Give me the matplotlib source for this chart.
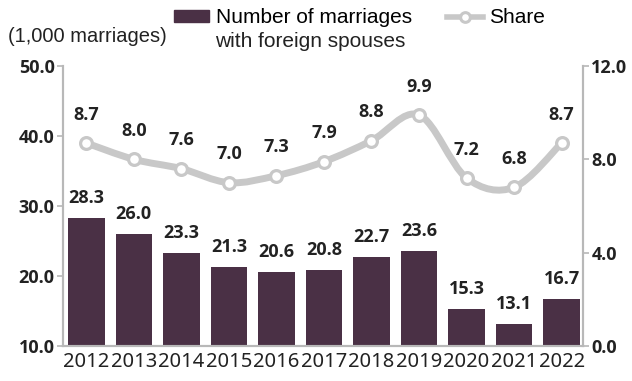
import matplotlib.pyplot as plt
from matplotlib.path import Path
from matplotlib.patches import PathPatch
from matplotlib.lines import Line2D
from matplotlib.patches import Patch

years = ["2012", "2013", "2014", "2015", "2016", "2017", "2018", "2019", "2020", "2021", "2022"]
marriages = [28.3, 26.0, 23.3, 21.3, 20.6, 20.8, 22.7, 23.6, 15.3, 13.1, 16.7]
share = [8.7, 8.0, 7.6, 7.0, 7.3, 7.9, 8.8, 9.9, 7.2, 6.8, 8.7]

bar_color = "#4a3045"
line_color = "#c8c8c8"
axis_color = "#b8b8b8"
num_font = ["Open Sans", "DejaVu Sans"]

fig = plt.figure(figsize=(6.32, 3.81), dpi=100)
ax = fig.add_axes([0.0997, 0.0919, 0.8228, 0.7349])
x = list(range(len(years)))

ax.bar(x, [m - 10 for m in marriages], bottom=10, width=0.77, color=bar_color, zorder=2)
for a, b in zip(x, marriages):
    ax.annotate('%.1f' % b, (a, b), xytext=(0, 8), textcoords='offset points',
                ha='center', va='bottom', fontsize=13, fontweight='bold',
                family=num_font, color='#222222')
ax.set_ylim(10, 50)
ax.set_xlim(-0.49, 10.45)
ax.set_yticks(range(10, 51, 10))
ax.set_yticklabels(['%.1f' % v for v in range(10, 51, 10)])
ax.set_xticks(x)
ax.set_xticklabels(years)

ax2 = ax.twinx()
ax2.set_ylim(0, 12)
ax2.set_yticks([0, 4, 8, 12])
ax2.set_yticklabels(['%.1f' % v for v in [0, 4, 8, 12]])

# smooth line through the share points (Catmull-Rom as bezier)
pts = list(zip(x, share))
verts = [pts[0]]
codes = [Path.MOVETO]
for i in range(len(pts) - 1):
    p0 = pts[i - 1] if i > 0 else pts[i]
    p1 = pts[i]
    p2 = pts[i + 1]
    p3 = pts[i + 2] if i + 2 < len(pts) else pts[i + 1]
    c1 = (p1[0] + (p2[0] - p0[0]) / 6, p1[1] + (p2[1] - p0[1]) / 6)
    c2 = (p2[0] - (p3[0] - p1[0]) / 6, p2[1] - (p3[1] - p1[1]) / 6)
    verts += [c1, c2, p2]
    codes += [Path.CURVE4] * 3
ax2.add_patch(PathPatch(Path(verts, codes), facecolor='none', edgecolor=line_color,
                        lw=5, capstyle='round', joinstyle='round', zorder=3))
ax2.plot(x, share, linestyle='none', marker='o', markersize=8.5, markerfacecolor='white',
         markeredgecolor=line_color, markeredgewidth=2.3, zorder=4)
for a, b in zip(x, share):
    ax2.annotate('%.1f' % b, (a, b), xytext=(0, 14), textcoords='offset points',
                 ha='center', va='bottom', fontsize=13, fontweight='bold',
                 family=num_font, color='#222222')

for axis in (ax, ax2):
    axis.spines['top'].set_visible(False)
    for s in ('left', 'right', 'bottom'):
        axis.spines[s].set_color(axis_color)
        axis.spines[s].set_linewidth(1.5)
    axis.tick_params(axis='y', colors=axis_color, length=4, width=1.2, labelcolor='#222222',
                     labelsize=13, pad=2)
    for lab in axis.get_yticklabels():
        lab.set_family(num_font)
        lab.set_fontweight('bold')
ax.tick_params(axis='x', length=0, labelsize=14.5, labelcolor='#222222', pad=4)
for lab in ax.get_xticklabels():
    lab.set_family(["Noto Sans", "DejaVu Sans"])

fig.text(0.012, 0.9055, "(1,000 marriages)", fontsize=14.5, family='Liberation Sans',
         color='#222222', va='center', ha='left')
handles = [Patch(color=bar_color),
           Line2D([], [], color=line_color, lw=4, marker='o', markersize=7,
                  markerfacecolor='white', markeredgecolor=line_color, markeredgewidth=2.2)]
labels = ["Number of marriages", "Share"]
fig.legend(handles, labels, loc='center left', bbox_to_anchor=(0.2753, 0.953), ncol=2,
           frameon=False, prop={'family': 'Liberation Sans', 'size': 15},
           handlelength=1.7, handleheight=0.5, handletextpad=0.3, columnspacing=1.7,
           borderpad=0, borderaxespad=0)
fig.text(0.341, 0.89, "with foreign spouses", fontsize=15, family='Liberation Sans',
         color='#222222', va='center', ha='left')

fig.savefig("out.png", dpi=100)
